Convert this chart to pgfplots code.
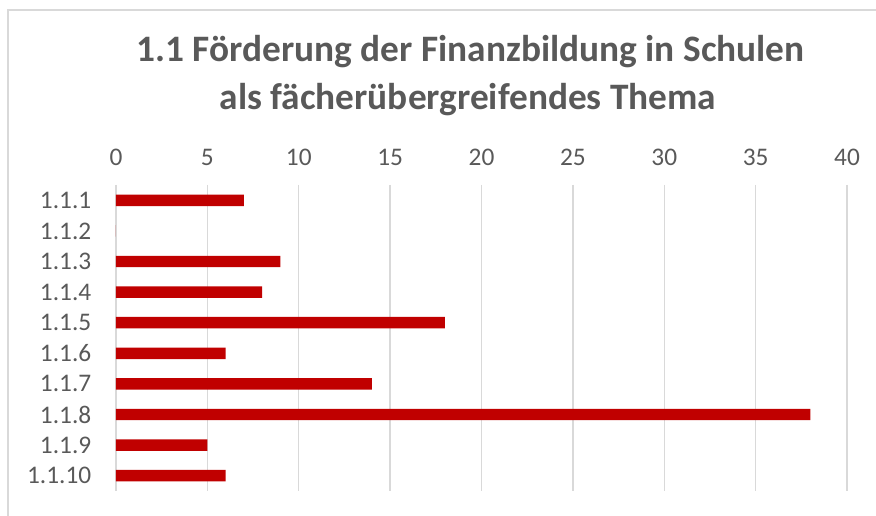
\documentclass[border=0pt]{standalone}
\usepackage{pgfplots}
\pgfplotsset{compat=1.18}
\usepackage{fontspec}
\setmainfont{Carlito}
\definecolor{barred}{HTML}{C00000}
\definecolor{gridgray}{HTML}{D9D9D9}
\definecolor{txtgray}{HTML}{595959}
\begin{document}
\begin{tikzpicture}
\useasboundingbox (0,0) rectangle (657pt,387pt);
% chart frame (only left and top edges visible)
\draw[gridgray, line width=1pt] (6pt,0pt) -- (6pt,379.5pt) -- (660pt,379.5pt);
\node[txtgray, font=\fontsize{28}{33}\selectfont\bfseries] at (353pt,348pt) {1.1 Förderung der Finanzbildung in Schulen};
\node[txtgray, font=\fontsize{28}{33}\selectfont\bfseries] at (351pt,312pt) {als fächerübergreifendes Thema};
\begin{axis}[
    at={(87pt,18.75pt)}, anchor=south west,
    scale only axis, width=548.25pt, height=229.5pt,
    xmin=0, xmax=40, xtick={0,5,...,40},
    ymin=0.5, ymax=10.5, y dir=reverse,
    ytick={1,...,10},
    yticklabels={1.1.1,1.1.2,1.1.3,1.1.4,1.1.5,1.1.6,1.1.7,1.1.8,1.1.9,1.1.10},
    xticklabel pos=upper,
    axis line style={draw=none},
    major tick length=0pt,
    xmajorgrids, grid style={gridgray, line width=1.1pt},
    ticklabel style={txtgray, font=\fontsize{19}{22}\selectfont},
    /pgf/number format/assume math mode=true,
    xticklabel style={yshift=11pt},
    yticklabel style={xshift=-15pt},
]
\addplot[xbar, bar width=8.6pt, fill=barred, draw=none] coordinates {
    (7,1)(0,2)(9,3)(8,4)(18,5)(6,6)(14,7)(38,8)(5,9)(6,10)};
\end{axis}
\end{tikzpicture}
\end{document}
